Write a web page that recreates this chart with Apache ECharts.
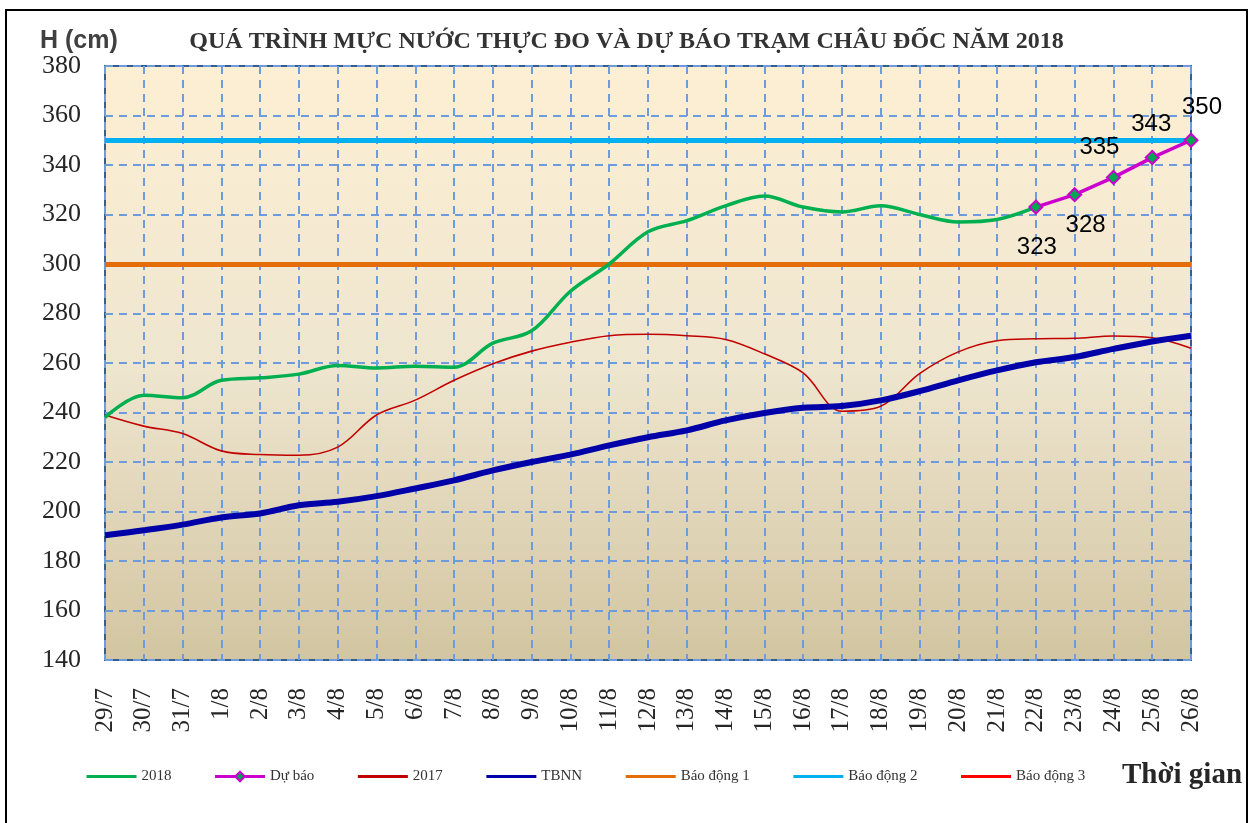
<!DOCTYPE html>
<html>
<head>
<meta charset="utf-8">
<title>Châu Đốc 2018</title>
<script src="https://cdn.jsdelivr.net/npm/echarts@6/dist/echarts.min.js"></script>
<style>
  html, body { margin: 0; padding: 0; background: #fff; }
  #chart { width: 1253px; height: 823px; }
</style>
</head>
<body>
<div id="chart"></div>
<script>
// ngày quan trắc
const dates = ['29/7', '30/7', '31/7', '1/8', '2/8', '3/8', '4/8', '5/8', '6/8', '7/8',
    '8/8', '9/8', '10/8', '11/8', '12/8', '13/8', '14/8', '15/8', '16/8', '17/8',
    '18/8', '19/8', '20/8', '21/8', '22/8', '23/8', '24/8', '25/8', '26/8']

// mực nước thực đo 2018 (29/7 -> 22/8)
const h2018 = [238, 247, 246, 253, 254, 255.5, 259, 258, 258.7, 258.3,
    268, 273, 289, 300, 313, 317.5, 323.5, 327.5, 323, 321,
    323.5, 320, 317, 318, 323]

// dự báo (22/8 -> 26/8)
const forecastStart = 24
const forecast = [323, 328, 335, 343, 350]
const forecastLabelOffsets = [[1, 40], [11, 31], [-14, -30], [-1, -33], [11, -33]]

// cùng kỳ 2017
const h2017 = [239, 234.5, 231.5, 224.5, 223, 222.7, 226, 239, 245, 253,
    259.7, 264.8, 268.4, 271, 271.6, 271, 269.5, 263.7, 256, 240.5,
    242.5, 255.7, 264.5, 269, 269.8, 270, 270.9, 270.2, 266]

// trung bình nhiều năm
const tbnn = [190.4, 192.4, 194.7, 197.6, 199.2, 202.5, 203.9, 206.2, 209.3, 212.6,
    216.6, 220, 223, 226.7, 230, 232.8, 236.8, 239.8, 241.9, 242.6,
    244.9, 248.6, 253, 257, 260.3, 262.4, 265.7, 268.7, 271]

// các cấp báo động
const alarmNames = ['Báo động 1', 'Báo động 2', 'Báo động 3']
const alarmLevels = [300, 350, 400]
const alarmColors = ['#E46C0A', '#00B0F0', '#FF0000']

const yMin = 140
const yMax = 380
const yStep = 20

const serif = 'Liberation Serif, Times New Roman, serif'
const sans = 'Liberation Sans, Arial, sans-serif'

const chart = echarts.init(document.getElementById('chart'))

const forecastData = dates.map((d, i) => {
    const k = i - forecastStart
    if (k < 0 || k >= forecast.length) return null
    return {
        value: forecast[k],
        label: { offset: forecastLabelOffsets[k] }
    }
})

const alarmSeries = alarmNames.map((name, i) => ({
    name,
    type: 'line',
    symbol: 'none',
    data: [],
    itemStyle: { color: alarmColors[i] },
    lineStyle: { color: alarmColors[i], width: 5 },
    z: 1,
    markLine: alarmLevels[i] > yMax ? undefined : {
        silent: true,
        symbol: 'none',
        label: { show: false },
        lineStyle: { color: alarmColors[i], width: 5, type: 'solid' },
        data: [{ yAxis: alarmLevels[i] }]
    }
}))

// legend: chỉ "Dự báo" có ký hiệu hình thoi
const legendNames = ['2018', 'Dự báo', '2017', 'TBNN'].concat(alarmNames)
const legendData = legendNames.map(name =>
    name === 'Dự báo' ? { name } : { name, itemStyle: { opacity: 0 } })

const option = {
    animation: false,
    backgroundColor: '#fff',
    title: {
        text: 'QUÁ TRÌNH MỰC NƯỚC THỰC ĐO VÀ DỰ BÁO TRẠM CHÂU ĐỐC NĂM 2018',
        left: 'center',
        top: 30,
        padding: 0,
        textStyle: { fontFamily: serif, fontSize: 24, fontWeight: 'bold', color: '#333' }
    },
    legend: {
        left: 80,
        top: 764,
        itemWidth: 50,
        itemHeight: 12,
        itemGap: 42,
        lineStyle: { width: 3 },
        textStyle: { fontFamily: serif, fontSize: 15, color: '#333' },
        data: legendData
    },
    graphic: [
        {
            type: 'rect',
            silent: true,
            shape: { x: 6, y: 10, width: 1241, height: 830 },
            style: { fill: 'none', stroke: '#000', lineWidth: 2 }
        },
        {
            type: 'text',
            style: {
                x: 40, y: 41, text: 'H (cm)', textVerticalAlign: 'middle',
                font: 'bold 25px ' + sans, fill: '#404040'
            }
        },
        {
            type: 'text',
            style: {
                x: 1122, y: 776, text: 'Thời gian', textVerticalAlign: 'middle',
                font: 'bold 29px ' + serif, fill: '#262626'
            }
        }
    ],
    grid: {
        left: 105,
        right: 62,
        top: 66,
        bottom: 163,
        show: true,
        borderColor: '#385D8A',
        borderWidth: 2,
        backgroundColor: {
            type: 'linear', x: 0, y: 0, x2: 0, y2: 1,
            colorStops: [
                { offset: 0, color: '#FDEFD3' },
                { offset: 0.5, color: '#EFE6D0' },
                { offset: 1, color: '#D2C5A1' }
            ]
        }
    },
    xAxis: {
        type: 'category',
        boundaryGap: false,
        data: dates,
        axisLine: { show: false },
        axisTick: { show: false },
        axisLabel: {
            rotate: 90, margin: 28, interval: 0,
            fontFamily: serif, fontSize: 25, color: '#262626'
        },
        splitLine: {
            show: true,
            interval: 0,
            lineStyle: { color: '#6E9BDD', width: 2, type: [8, 6] }
        }
    },
    yAxis: {
        type: 'value',
        min: yMin,
        max: yMax,
        interval: yStep,
        axisLine: { show: false },
        axisTick: { show: false },
        axisLabel: { margin: 24, fontFamily: serif, fontSize: 26, color: '#262626' },
        splitLine: { lineStyle: { color: '#6E9BDD', width: 2, type: [8, 6] } }
    },
    series: [
        {
            name: '2017',
            type: 'line',
            data: h2017,
            smooth: 0.35,
            symbol: 'none',
            itemStyle: { color: '#C00000' },
            lineStyle: { color: '#C00000', width: 1.6 },
            z: 3
        },
        {
            name: 'TBNN',
            type: 'line',
            data: tbnn,
            smooth: 0.35,
            symbol: 'none',
            itemStyle: { color: '#0000A8' },
            lineStyle: { color: '#0000A8', width: 6 },
            z: 4
        },
        {
            name: '2018',
            type: 'line',
            data: h2018,
            smooth: 0.35,
            symbol: 'none',
            itemStyle: { color: '#00B050' },
            lineStyle: { color: '#00B050', width: 3.5 },
            z: 5
        },
        {
            name: 'Dự báo',
            type: 'line',
            data: forecastData,
            symbol: 'diamond',
            symbolSize: 13,
            showSymbol: true,
            itemStyle: { color: '#00A651', borderColor: '#CC00CC', borderWidth: 2 },
            lineStyle: { color: '#CC00CC', width: 3.5 },
            label: {
                show: true,
                position: 'inside',
                formatter: '{c}',
                fontFamily: sans,
                fontSize: 24,
                color: '#000'
            },
            z: 6
        }
    ].concat(alarmSeries)
}

chart.setOption(option)
</script>
</body>
</html>
